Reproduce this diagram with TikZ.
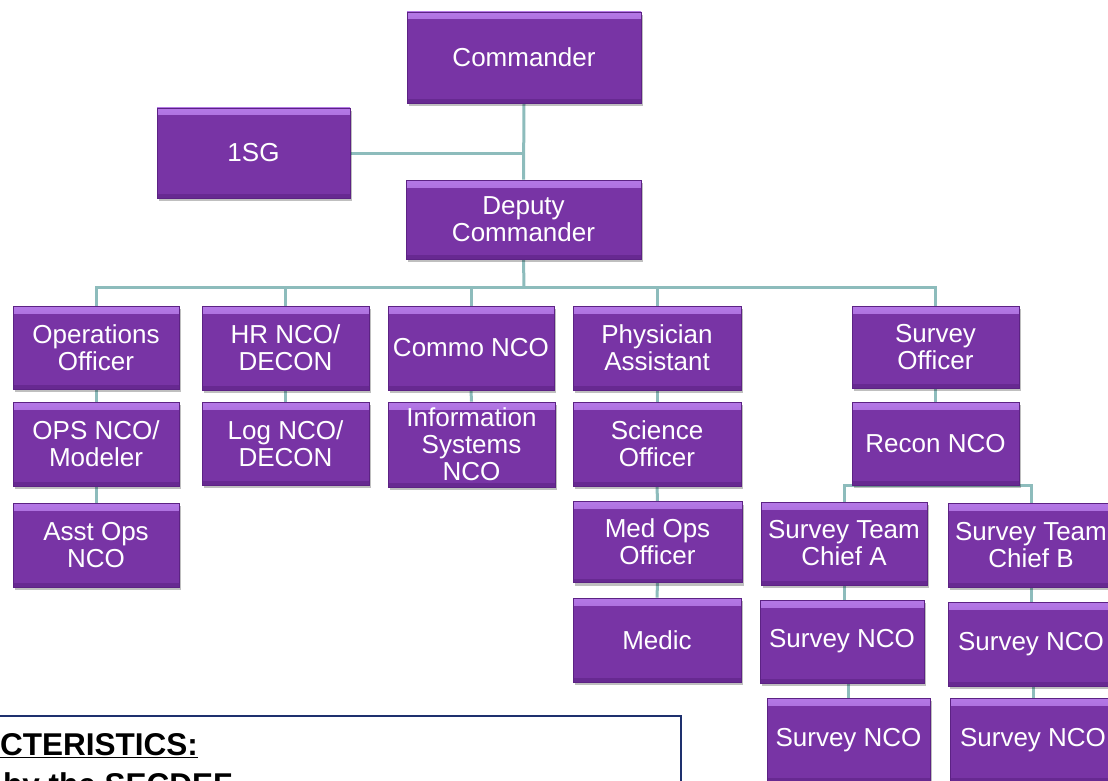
\documentclass[tikz,border=0pt]{standalone}
\usepackage{fontspec}
\setmainfont{Liberation Sans}
\usetikzlibrary{shadows,backgrounds}
\definecolor{boxfill}{RGB}{120,52,165}
\definecolor{boxtop}{RGB}{180,120,230}
\definecolor{boxedge}{RGB}{92,34,132}
\definecolor{connc}{RGB}{141,188,188}
\definecolor{navyc}{RGB}{30,48,110}
\tikzset{
  orgbox/.style={rectangle, fill=boxfill, draw=boxedge, line width=0.8pt,
    text=white, align=center, inner sep=0pt,
    font=\fontsize{26}{27}\selectfont,
    drop shadow={shadow xshift=2pt, shadow yshift=-3pt, fill=black, opacity=0.25},
    path picture={
      \shade[top color=boxtop, bottom color=boxfill]
        (path picture bounding box.north west) rectangle ([yshift=-7pt]path picture bounding box.north east);
      \fill[boxedge, opacity=0.6]
        (path picture bounding box.south west) rectangle ([yshift=4pt]path picture bounding box.south east);
    }},
  conn/.style={draw=connc, line width=3pt},
  frame/.style={draw=navyc, line width=2.2pt, inner sep=0pt},
  bw/.style={minimum width=#1},
  bh/.style={minimum height=#1}
}
\begin{document}
\begin{tikzpicture}[x=1pt,y=-1pt]
\useasboundingbox (0,0) rectangle (1108,781);
\clip (0,0) rectangle (1108,781);
% boxes
\node[orgbox,bw=234,bh=91] (cmd) at (524,57.5) {Commander};
\node[orgbox,bw=193,bh=90] (sg) at (253.5,153) {1SG};
\node[orgbox,bw=235,bh=79] (dep) at (523.5,219.5) {Deputy\\Commander};
\node[orgbox,bw=166,bh=83] (ops) at (96,347.5) {Operations\\Officer};
\node[orgbox,bw=167,bh=84] (hr) at (285.5,348) {HR NCO/\\DECON};
\node[orgbox,bw=166,bh=84] (com) at (471,348) {Commo NCO};
\node[orgbox,bw=168,bh=84] (pa) at (657,348) {Physician\\Assistant};
\node[orgbox,bw=167,bh=82] (so) at (935.5,347) {Survey\\Officer};
\node[orgbox,bw=166,bh=84] (opsnco) at (96,444) {OPS NCO/\\Modeler};
\node[orgbox,bw=167,bh=83] (log) at (285.5,443.5) {Log NCO/\\DECON};
\node[orgbox,bw=167,bh=85] (info) at (471.5,444.5) {Information\\Systems\\NCO};
\node[orgbox,bw=168,bh=84] (sci) at (657,444) {Science\\Officer};
\node[orgbox,bw=167,bh=83] (rec) at (935.5,443.5) {Recon NCO};
\node[orgbox,bw=166,bh=84] (asst) at (96,545) {Asst Ops\\NCO};
\node[orgbox,bw=169,bh=81] (medops) at (657.5,542) {Med Ops\\Officer};
\node[orgbox,bw=166,bh=83] (cha) at (844,543.5) {Survey Team\\Chief A};
\node[orgbox,bw=166,bh=84] (chb) at (1031,545) {Survey Team\\Chief B};
\node[orgbox,bw=168,bh=84] (medic) at (657,640) {Medic};
\node[orgbox,bw=164,bh=83] (na) at (842,641.5) {Survey NCO};
\node[orgbox,bw=166,bh=84] (nb) at (1031,644) {Survey NCO};
\node[orgbox,bw=163,bh=84] (na2) at (848.5,740) {Survey NCO};
\node[orgbox,bw=166,bh=84] (nb2) at (1033,740) {Survey NCO};
% connectors
\coordinate (bus) at (524,287);
\begin{scope}[on background layer]
\draw[conn] (cmd.south) -- (dep.north);
\draw[conn] (sg.east) -- (sg.east -| cmd.south);
\draw[conn] (dep.south) -- (bus);
\draw[conn] (ops.north) -- (ops.north |- bus) -- (so.north |- bus) -- (so.north);
\draw[conn] (hr.north) -- (hr.north |- bus);
\draw[conn] (com.north) -- (com.north |- bus);
\draw[conn] (pa.north) -- (pa.north |- bus);
\draw[conn] (ops.south) -- (opsnco.north);
\draw[conn] (opsnco.south) -- (asst.north);
\draw[conn] (hr.south) -- (log.north);
\draw[conn] (com.south) -- (info.north);
\draw[conn] (pa.south) -- (sci.north);
\draw[conn] (sci.south) -- (medops.north);
\draw[conn] (medops.south) -- (medic.north);
\draw[conn] (so.south) -- (rec.north);
\draw[conn] (cha.north) -- (cha.north |- rec.south) -- (chb.north |- rec.south) -- (chb.north);
\draw[conn] (rec.south) -- ([yshift=-2pt]rec.south);
\draw[conn] (cha.south) -- (cha.south |- na.north);
\draw[conn] (na2.north) -- (na2.north |- na.south);
\draw[conn] (chb.south) -- (chb.south |- nb.north);
\draw[conn] (nb2.north) -- (nb2.north |- nb.south);
\end{scope}
% characteristics frame
\node[frame, anchor=north east, minimum width=720, minimum height=120] (charbox) at (682,715) {};
\node[anchor=base west, inner sep=0pt, font=\fontsize{31.5}{36}\selectfont\bfseries] (charhead) at (0,755) {\underline{CTERISTICS:}};
\node[anchor=base west, inner sep=0pt, font=\fontsize{31.5}{36}\selectfont\bfseries] (chartext) at (3,795) {by the SECDEF};
\end{tikzpicture}
\end{document}
